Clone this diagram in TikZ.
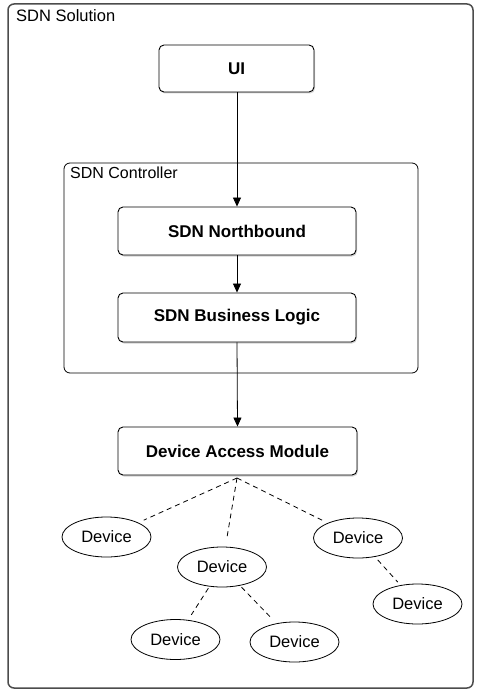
\documentclass[tikz,border=0pt]{standalone}
\usepackage{fontspec}
\setmainfont{Liberation Sans}
\usetikzlibrary{shapes.geometric,arrows.meta,shadows}
\begin{document}
\begin{tikzpicture}[x=1pt,y=-1pt,
  container/.style={draw=#1,rounded corners=6pt},
  block/.style={draw=black,line width=0.9pt,rounded corners=5pt,fill=white,
    font=\fontsize{17}{20}\selectfont\bfseries,inner sep=0pt,
    drop shadow={shadow xshift=1pt,shadow yshift=-1.5pt,opacity=0.35}},
  dev/.style={ellipse,draw=black,line width=0.8pt,fill=white,minimum width=89pt,minimum height=40pt,
    inner sep=0pt,font=\fontsize{16.5}{19}\selectfont},
  flow/.style={line width=0.8pt,-{Triangle[length=9pt,width=8pt]}},
  link/.style={line width=0.8pt,dash pattern=on 5pt off 4pt}
]
\useasboundingbox (0,0) rectangle (483,692);
\draw[container={black!70},line width=1.5pt] (8,4) rectangle (473,688);
\node[anchor=base west,font=\fontsize{16.5}{19}\selectfont,inner sep=0pt] (soltitle) at (16,22) {SDN Solution};
\draw[container=black,line width=0.8pt] (64,163) rectangle (418,373);
\node[anchor=base west,font=\fontsize{16}{19}\selectfont,inner sep=0pt] (ctltitle) at (70,179) {SDN Controller};

\node[block,minimum width=155pt,minimum height=47pt] (ui) at (236.5,68.5) {UI};
\node[block,minimum width=238pt,minimum height=48pt] (nb) at (237,231) {SDN Northbound};
\node[block,minimum width=238pt,minimum height=49pt] (bl) at (237,317.5) {SDN Business Logic};
\node[block,minimum width=239pt,minimum height=48pt] (dam) at (237.5,451) {Device Access Module};

\draw[flow] (ui.south -| nb.north) -- (nb.north);
\draw[flow] (nb.south) -- (bl.north);
\draw[flow] (bl.south) -- (dam.north);

\node[dev] (d1) at (106.5,537) {Device};
\node[dev] (d2) at (222,567) {Device};
\node[dev] (d3) at (358,538) {Device};
\node[dev] (d4) at (417.5,604) {Device};
\node[dev] (d5) at (175.5,639.5) {Device};
\node[dev] (d6) at (294.5,642) {Device};

\coordinate (hub) at (237,478);
\draw[link,shorten >=6pt] (hub) -- (d1);
\draw[link,shorten >=8pt] (hub) -- (d2);
\draw[link,shorten >=6pt] (hub) -- (d3);
\draw[link,shorten <=4pt,shorten >=4pt] (d3) -- (d4);
\draw[link,shorten <=2pt,shorten >=6pt] (d2) -- (d5);
\draw[link,shorten <=2pt,shorten >=6pt] (d2) -- (d6);
\end{tikzpicture}
\end{document}
